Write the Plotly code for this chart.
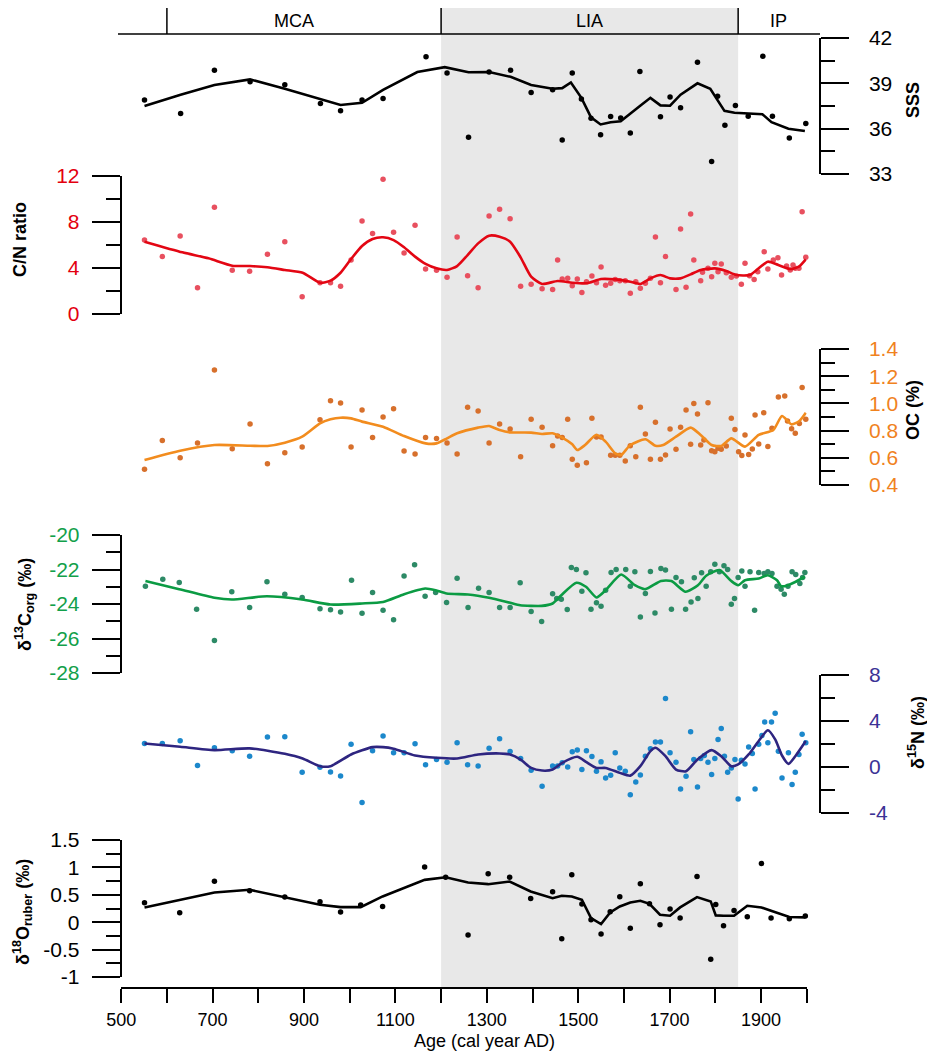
import plotly.graph_objects as go

W, H = 927, 1055

# ---------------- data ----------------
sss_pt_year = [551, 630, 704, 782, 858, 936, 980, 1027, 1073, 1167, 1213, 1260, 1305, 1352, 1397, 1444, 1465,
               1487, 1507, 1528, 1549, 1571, 1593, 1614, 1635, 1680, 1701, 1724, 1761, 1792, 1805, 1821, 1844,
               1872, 1904, 1925, 1962, 1998]
sss_pt_val = [37.89, 37.0, 39.86, 39.1, 38.9, 37.67, 37.18, 37.89, 37.99, 40.76, 39.69, 35.44, 39.75, 39.86, 38.4,
              38.57, 35.25, 39.69, 37.97, 36.69, 35.6, 36.8, 36.7, 35.72, 39.79, 36.79, 38.1, 37.39, 40.4, 33.82,
              38.15, 36.22, 37.53, 36.82, 40.8, 36.82, 35.38, 36.35]
sss_ln_year = [551, 630, 704, 782, 858, 936, 980, 1027, 1073, 1148, 1208, 1260, 1305, 1352, 1397, 1444, 1465, 1484,
               1507, 1528, 1549, 1571, 1593, 1635, 1658, 1680, 1701, 1724, 1761, 1789, 1820, 1842, 1871, 1903,
               1923, 1960, 1996]
sss_ln_val = [37.5, 38.25, 38.89, 39.26, 38.64, 37.93, 37.57, 37.71, 38.57, 39.75, 40.07, 39.73, 39.75, 39.43,
              38.89, 38.64, 38.68, 39.06, 38.04, 36.75, 36.28, 36.43, 36.49, 37.5, 38.04, 37.54, 37.52, 38.25, 39.0,
              38.64, 37.18, 37.05, 37.0, 36.96, 36.43, 36.0, 35.85]

cn_pt_year = [551, 590, 629, 667, 704, 743, 781, 820, 858, 896, 935, 958, 980, 1003, 1027, 1050, 1073, 1096, 1119,
              1143, 1166, 1190, 1213, 1235, 1258, 1281, 1305, 1328, 1351, 1374, 1397, 1421, 1444, 1455, 1465, 1477,
              1487, 1498, 1508, 1518, 1530, 1540, 1550, 1560, 1571, 1581, 1591, 1603, 1614, 1626, 1636, 1647, 1658,
              1669, 1680, 1691, 1714, 1724, 1736, 1746, 1753, 1768, 1772, 1784, 1792, 1799, 1806, 1813, 1824, 1835,
              1846, 1857, 1865, 1875, 1885, 1893, 1907, 1915, 1927, 1937, 1945, 1956, 1964, 1970, 1975, 1983, 1990,
              1998]
cn_pt_val = [6.43, 4.99, 6.78, 2.29, 9.28, 3.8, 3.71, 5.19, 6.29, 1.51, 2.72, 2.72, 2.41, 4.7, 8.09, 7.01, 11.71,
             7.1, 5.3, 7.71, 3.91, 3.8, 3.19, 6.7, 3.33, 2.29, 8.52, 9.1, 8.29, 2.41, 2.58, 2.2, 2.12, 4.7, 3.04, 3.1,
             2.46, 3.04, 1.88, 2.81, 3.3, 2.72, 4.09, 2.49, 2.67, 3.01, 2.9, 2.9, 1.8, 2.81, 2.23, 2.67, 3.1, 6.7,
             2.72, 4.99, 2.14, 7.39, 2.32, 8.7, 4.7, 2.9, 3.62, 3.97, 3.25, 4.41, 3.68, 4.35, 3.59, 3.19, 3.3, 2.58,
             4.41, 3.33, 3.01, 3.68, 5.42, 3.91, 4.7, 4.9, 3.39, 4.17, 3.83, 4.26, 3.97, 3.97, 8.9, 4.93]
cn_ln_year = [551, 634, 691, 743, 782, 820, 858, 897, 935, 958, 980, 1003, 1027, 1050, 1073, 1096, 1119, 1143, 1166,
              1190, 1213, 1235, 1258, 1281, 1305, 1328, 1351, 1374, 1397, 1421, 1455, 1487, 1518, 1550, 1581, 1614,
              1636, 1658, 1680, 1701, 1724, 1746, 1768, 1799, 1824, 1846, 1875, 1893, 1915, 1938, 1964, 1983, 1998]
cn_ln_val = [6.29, 5.36, 4.84, 4.2, 4.17, 4.06, 3.83, 3.59, 2.72, 2.9, 3.59, 4.78, 5.91, 6.52, 6.67, 6.43, 5.8, 4.99,
             4.35, 3.97, 3.83, 4.17, 5.13, 6.14, 6.81, 6.72, 6.29, 4.93, 3.25, 2.61, 2.87, 2.72, 2.67, 3.04, 3.01,
             2.81, 2.61, 3.1, 3.39, 3.1, 3.1, 3.45, 3.83, 3.97, 3.74, 3.39, 3.39, 3.91, 4.55, 4.26, 3.91, 4.12, 4.75]

oc_pt_year = [551, 590, 629, 667, 704, 743, 782, 820, 858, 896, 935, 958, 980, 1003, 1027, 1050, 1073, 1096, 1119,
              1143, 1166, 1190, 1213, 1235, 1258, 1281, 1305, 1328, 1351, 1374, 1397, 1421, 1444, 1455, 1465, 1477,
              1487, 1498, 1518, 1530, 1540, 1550, 1571, 1581, 1591, 1603, 1614, 1626, 1636, 1647, 1658, 1669, 1680,
              1691, 1701, 1714, 1724, 1736, 1746, 1753, 1761, 1768, 1775, 1784, 1792, 1799, 1806, 1813, 1824, 1835,
              1843, 1851, 1858, 1865, 1873, 1881, 1887, 1895, 1906, 1915, 1924, 1938, 1952, 1958, 1967, 1975, 1984,
              1990, 1998]
oc_pt_val = [0.515, 0.728, 0.601, 0.709, 1.246, 0.667, 0.849, 0.557, 0.638, 0.679, 0.88, 1.02, 1.003, 0.679, 0.951,
             0.75, 0.9, 0.961, 0.65, 0.628, 0.75, 0.741, 0.709, 0.628, 0.971, 0.944, 0.709, 0.849, 0.812, 0.608,
             0.883, 0.824, 0.689, 0.76, 0.75, 0.883, 0.589, 0.545, 0.564, 0.89, 0.753, 0.753, 0.618, 0.618, 0.618,
             0.576, 0.689, 0.608, 0.971, 0.775, 0.589, 0.861, 0.589, 0.621, 0.812, 0.662, 0.824, 0.951, 0.699, 1.0,
             0.922, 0.694, 0.731, 1.005, 0.652, 0.645, 0.67, 0.662, 0.687, 0.89, 0.809, 0.645, 0.616, 0.768, 0.625,
             0.665, 0.915, 0.701, 0.932, 0.684, 0.817, 1.047, 1.054, 0.871, 0.814, 0.78, 0.853, 1.116, 0.883]
oc_ln_year = [551, 629, 704, 782, 820, 858, 896, 935, 958, 980, 1003, 1027, 1073, 1119, 1166, 1190, 1213, 1235, 1281,
              1305, 1328, 1351, 1397, 1421, 1444, 1465, 1487, 1498, 1515, 1540, 1560, 1581, 1594, 1614, 1647, 1669,
              1686, 1714, 1746, 1768, 1792, 1813, 1835, 1865, 1895, 1927, 1946, 1967, 1984, 1998]
oc_ln_val = [0.584, 0.652, 0.694, 0.689, 0.687, 0.711, 0.755, 0.853, 0.883, 0.895, 0.89, 0.866, 0.829, 0.76, 0.706,
             0.706, 0.743, 0.78, 0.822, 0.834, 0.804, 0.787, 0.785, 0.775, 0.78, 0.748, 0.699, 0.657, 0.694, 0.77,
             0.719, 0.633, 0.621, 0.694, 0.736, 0.689, 0.694, 0.755, 0.822, 0.768, 0.694, 0.687, 0.743, 0.682,
             0.768, 0.804, 0.907, 0.846, 0.871, 0.932]

c13_pt_year = [553, 591, 627, 665, 704, 742, 781, 819, 858, 896, 935, 958, 980, 1004, 1027, 1050, 1073, 1096, 1119,
               1142, 1165, 1188, 1212, 1235, 1259, 1282, 1305, 1328, 1351, 1373, 1397, 1420, 1444, 1453, 1463, 1476,
               1485, 1496, 1508, 1517, 1528, 1540, 1550, 1560, 1572, 1583, 1604, 1614, 1624, 1636, 1647, 1658, 1668,
               1681, 1691, 1704, 1714, 1726, 1735, 1747, 1754, 1762, 1770, 1780, 1790, 1799, 1809, 1819, 1827, 1835,
               1842, 1850, 1858, 1865, 1876, 1886, 1895, 1907, 1915, 1924, 1935, 1944, 1951, 1959, 1968, 1976, 1985,
               1991, 1996]
c13_pt_val = [-22.97, -22.56, -22.75, -24.3, -26.12, -23.29, -24.2, -22.71, -23.43, -23.62, -24.28, -24.34, -24.46,
              -22.62, -24.53, -23.33, -24.36, -24.92, -22.38, -21.72, -23.55, -23.33, -23.91, -22.5, -24.2, -23.08,
              -23.33, -24.2, -24.2, -22.77, -24.44, -25.02, -23.41, -23.68, -23.72, -24.32, -21.88, -22.0, -23.26,
              -22.19, -24.3, -23.93, -24.13, -23.2, -22.17, -22.0, -22.0, -22.97, -22.13, -24.75, -23.39, -22.11,
              -24.52, -21.94, -22.03, -24.3, -22.46, -22.71, -24.3, -23.88, -22.48, -23.68, -22.19, -22.97, -22.13,
              -21.69, -22.13, -21.78, -22.0, -24.01, -23.68, -22.46, -22.09, -22.97, -22.13, -24.36, -22.17, -22.23,
              -22.13, -22.23, -22.97, -23.14, -23.43, -22.97, -22.13, -22.29, -22.81, -22.46, -22.17]
c13_ln_year = [553, 627, 704, 742, 819, 896, 958, 1027, 1073, 1119, 1165, 1188, 1212, 1259, 1305, 1351, 1373, 1420,
               1444, 1463, 1496, 1517, 1540, 1560, 1594, 1624, 1647, 1681, 1704, 1735, 1762, 1780, 1809, 1835, 1850,
               1865, 1895, 1915, 1935, 1944, 1959, 1976, 1996]
c13_ln_val = [-22.67, -23.14, -23.64, -23.74, -23.55, -23.74, -24.03, -23.97, -23.88, -23.43, -23.1, -23.2, -23.39,
              -23.45, -23.64, -23.93, -24.07, -24.11, -23.97, -23.49, -22.77, -23.0, -23.62, -23.2, -22.29, -22.91,
              -23.14, -22.66, -22.67, -23.29, -22.91, -22.36, -22.03, -22.67, -22.91, -22.62, -22.52, -22.33, -22.62,
              -22.97, -22.91, -22.71, -22.42]

n15_pt_year = [551, 590, 629, 667, 704, 743, 781, 820, 858, 896, 935, 958, 980, 1003, 1027, 1050, 1073, 1096, 1119,
               1143, 1166, 1190, 1213, 1235, 1258, 1281, 1305, 1328, 1351, 1374, 1397, 1421, 1444, 1455, 1465, 1477,
               1487, 1498, 1508, 1518, 1530, 1540, 1550, 1560, 1571, 1581, 1591, 1603, 1614, 1626, 1636, 1647, 1658,
               1669, 1680, 1691, 1701, 1714, 1724, 1736, 1746, 1753, 1761, 1768, 1776, 1784, 1792, 1799, 1806, 1813,
               1820, 1827, 1835, 1843, 1850, 1857, 1865, 1873, 1881, 1887, 1895, 1902, 1908, 1915, 1923, 1931, 1938,
               1946, 1960, 1968, 1975, 1983, 1990, 1998]
n15_pt_val = [2.05, 2.05, 2.29, 0.13, 1.67, 1.41, 0.94, 2.61, 2.64, -0.45, -0.02, -0.43, -0.78, 1.97, -3.08, 1.41,
              2.69, 1.24, 1.24, 2.02, 0.19, 0.65, 0.42, 2.11, 0.19, 0.08, 1.64, 2.46, 1.35, 0.74, -0.28, -1.68, 0.08,
              0.08, 0.36, 0.01, 1.32, 1.47, -0.22, 1.41, 0.92, -0.37, 0.45, -0.95, -0.72, 1.24, -0.08, -0.37, -2.41,
              -1.3, -0.69, 0.94, 1.59, 2.17, 2.17, 5.96, 1.24, 0.42, -1.91, -0.8, 3.07, 0.65, -1.74, 0.74, 1.0, 0.42,
              -0.66, 0.74, 2.4, 3.34, 0.94, -0.45, -0.08, 0.65, -2.79, 0.59, 0.27, 1.73, 1.18, -1.91, 1.97, 2.75,
              3.92, 2.11, 3.92, 4.68, 1.38, -0.95, 1.24, -1.53, -0.45, 1.09, 2.84, 2.11]
n15_ln_year = [551, 629, 704, 781, 858, 897, 935, 958, 1003, 1050, 1073, 1096, 1143, 1190, 1235, 1281, 1328, 1351,
               1374, 1397, 1421, 1444, 1465, 1498, 1518, 1540, 1560, 1591, 1614, 1636, 1658, 1669, 1691, 1714, 1736,
               1761, 1792, 1813, 1835, 1850, 1873, 1895, 1915, 1931, 1946, 1960, 1975, 1998]
n15_ln_val = [2.05, 1.76, 1.47, 1.62, 1.15, 0.74, 0.07, 0.07, 1.09, 1.73, 1.73, 1.59, 1.0, 0.8, 0.74, 1.09, 1.18,
              1.09, 0.65, -0.08, -0.31, -0.22, 0.36, 0.89, 0.42, -0.08, -0.08, -0.51, -0.75, 0.07, 1.38, 1.67, 0.94,
              -0.22, -0.37, 0.65, 1.47, 0.94, 0.07, 0.22, 1.09, 2.26, 3.19, 2.4, 1.0, 0.27, 0.94, 2.26]

o18_pt_year = [551, 628, 704, 781, 858, 935, 980, 1024, 1072, 1164, 1210, 1259, 1303, 1350, 1396, 1444, 1464, 1486,
               1508, 1528, 1550, 1570, 1591, 1614, 1636, 1656, 1679, 1701, 1723, 1760, 1790, 1801, 1818, 1841, 1870,
               1901, 1922, 1962, 1997]
o18_pt_val = [0.355, 0.173, 0.748, 0.573, 0.458, 0.373, 0.185, 0.312, 0.288, 1.009, 0.821, -0.233, 0.882, 0.821,
              0.433, 0.555, -0.3, 0.864, 0.33, 0.045, -0.215, 0.191, 0.464, -0.112, 0.7, 0.336, -0.045, 0.239, 0.076,
              0.833, -0.676, 0.324, -0.064, 0.215, 0.1, 1.07, 0.076, 0.064, 0.112]
o18_ln_year = [551, 628, 704, 781, 858, 935, 980, 1024, 1072, 1164, 1210, 1259, 1303, 1350, 1396, 1444, 1464, 1486,
               1508, 1528, 1550, 1570, 1591, 1614, 1636, 1656, 1679, 1701, 1723, 1760, 1790, 1801, 1818, 1841, 1870,
               1901, 1922, 1962, 1997]
o18_ln_val = [0.27, 0.409, 0.542, 0.591, 0.452, 0.318, 0.276, 0.276, 0.47, 0.773, 0.821, 0.724, 0.694, 0.742, 0.561,
              0.439, 0.482, 0.47, 0.409, 0.076, -0.033, 0.179, 0.288, 0.361, 0.391, 0.336, 0.136, 0.118, 0.27, 0.458,
              0.379, 0.124, 0.118, 0.118, 0.3, 0.27, 0.209, 0.094, 0.088]

periods = ["MCA", "LIA", "IP"]
period_label_year = [878, 1525, 1938]
period_bounds = [600, 1200, 1850]
lia_span = [1200, 1850]

x_ticks = [500, 700, 900, 1100, 1300, 1500, 1700, 1900]

# ---------------- helpers ----------------
FONT = "Liberation Sans, Arial, Helvetica, sans-serif"


def fy(py):
    return 1 - py / H


def fx(px):
    return px / W


fig = go.Figure()

panels = [
    ("y", sss_pt_year, sss_pt_val, sss_ln_year, sss_ln_val, "#000000", "#000000", False),
    ("y2", cn_pt_year, cn_pt_val, cn_ln_year, cn_ln_val, "#e8505f", "#e30613", True),
    ("y3", oc_pt_year, oc_pt_val, oc_ln_year, oc_ln_val, "#d7702c", "#f28c1e", True),
    ("y4", c13_pt_year, c13_pt_val, c13_ln_year, c13_ln_val, "#2d8a66", "#0b9b43", True),
    ("y5", n15_pt_year, n15_pt_val, n15_ln_year, n15_ln_val, "#1c88cb", "#2e2580", True),
    ("y6", o18_pt_year, o18_pt_val, o18_ln_year, o18_ln_val, "#000000", "#000000", False),
]

for yid, px_, py_, lx, ly, pc, lc, spl in panels:
    fig.add_trace(go.Scatter(x=px_, y=py_, xaxis="x", yaxis=yid, mode="markers",
                             marker=dict(size=5.5, color=pc), showlegend=False, cliponaxis=False))
    fig.add_trace(go.Scatter(x=lx, y=ly, xaxis="x", yaxis=yid, mode="lines",
                             line=dict(color=lc, width=2.6, shape="spline" if spl else "linear",
                                       smoothing=0.6 if spl else None),
                             showlegend=False, cliponaxis=False))


def yaxis_cfg(top, bot, rng, tv, tt, minor_dtick, side, color):
    pos = fx(820) if side == "right" else fx(120.5)
    standoff = 16 if side == "right" else 8
    return dict(domain=[fy(bot), fy(top)], range=rng, anchor="free", position=pos, side=side,
                showline=True, linecolor="black", linewidth=1.5, showgrid=False, zeroline=False,
                ticks="outside", ticklen=28, tickwidth=1.5, tickcolor="black",
                tickmode="array", tickvals=tv, ticktext=tt, ticklabelstandoff=standoff,
                tickfont=dict(family=FONT, size=21, color=color),
                minor=dict(ticks="outside", ticklen=14, tickwidth=1.5, tickcolor="black",
                           dtick=minor_dtick, tick0=rng[0], showgrid=False),
                automargin=False, fixedrange=True)


layout = dict(
    width=W, height=H, margin=dict(l=0, r=0, t=0, b=0),
    paper_bgcolor="white", plot_bgcolor="rgba(0,0,0,0)",
    font=dict(family=FONT, color="black"),
    xaxis=dict(domain=[fx(121.2), fx(806.7)], range=[500, 2000], anchor="free", position=fy(988),
               showline=True, linecolor="black", linewidth=1.5, showgrid=False, zeroline=False,
               ticks="outside", ticklen=14, tickwidth=1.5, tickcolor="black",
               tickmode="array", tickvals=x_ticks, ticktext=[str(v) for v in x_ticks], ticklabelstandoff=2,
               tickfont=dict(family=FONT, size=18, color="black"),
               minor=dict(ticks="outside", ticklen=14, tickwidth=1.5, tickcolor="black", dtick=100, tick0=500),
               automargin=False, fixedrange=True),
    yaxis=yaxis_cfg(38, 174, [33, 42], [33, 36, 39, 42], ["33", "36", "39", "42"], 1.5, "right", "black"),
    yaxis2=yaxis_cfg(176, 314, [0, 12], [0, 4, 8, 12], ["0", "4", "8", "12"], 2, "left", "#e3000f"),
    yaxis3=yaxis_cfg(349, 485, [0.4, 1.4], [0.4, 0.6, 0.8, 1.0, 1.2, 1.4],
                     ["0.4", "0.6", "0.8", "1.0", "1.2", "1.4"], 0.1, "right", "#f0821e"),
    yaxis4=yaxis_cfg(535, 673, [-28, -20], [-28, -26, -24, -22, -20],
                     ["-28", "-26", "-24", "-22", "-20"], 1, "left", "#12a04a"),
    yaxis5=yaxis_cfg(675, 813, [-4, 8], [-4, 0, 4, 8], ["-4", "0", "4", "8"], 2, "right", "#3b3295"),
    yaxis6=yaxis_cfg(840, 977, [-1, 1.5], [-1, -0.5, 0, 0.5, 1, 1.5],
                     ["-1", "-0.5", "0", "0.5", "1", "1.5"], 0.25, "left", "black"),
)
fig.update_layout(**layout)

shapes = [
    dict(type="rect", xref="x", yref="paper", x0=lia_span[0], x1=lia_span[1], y0=fy(988), y1=fy(8),
         fillcolor="#e8e8e8", line=dict(width=0), layer="below"),
    dict(type="line", xref="paper", yref="paper", x0=fx(118), x1=fx(820), y0=fy(34), y1=fy(34),
         line=dict(color="black", width=1.5)),
]
for b in period_bounds:
    shapes.append(dict(type="line", xref="x", yref="paper", x0=b, x1=b, y0=fy(34), y1=fy(8),
                       line=dict(color="black", width=1.5)))
fig.update_layout(shapes=shapes)

ann = []
for name, yr in zip(periods, period_label_year):
    ann.append(dict(text=name, x=yr, xref="x", y=fy(21), yref="paper", showarrow=False,
                    font=dict(family=FONT, size=18, color="black"), xanchor="center", yanchor="middle"))

titles = [
    ("<b>SSS</b>", 913, 100),
    ("<b>C/N ratio</b>", 20, 240),
    ("<b>OC (%)</b>", 913, 410),
    ("<b>δ<sup>13</sup>C<sub>org</sub> (‰)</b>", 24, 605),
    ("<b>δ<sup>15</sup>N (‰)</b>", 916, 733),
    ("<b>δ<sup>18</sup>O<sub>ruber</sub> (‰)</b>", 22, 912),
]
for t, x, y in titles:
    ann.append(dict(text=t, x=fx(x), y=fy(y), xref="paper", yref="paper", showarrow=False, textangle=-90,
                    font=dict(family=FONT, size=18, color="black"), xanchor="center", yanchor="middle"))

ann.append(dict(text="Age (cal year AD)", x=fx(485), y=fy(1041), xref="paper", yref="paper", showarrow=False,
                font=dict(family=FONT, size=18, color="black"), xanchor="center", yanchor="middle"))
fig.update_layout(annotations=ann)

fig.write_html("out.html", config={"displayModeBar": False},
               post_script="document.body.style.margin='0px';document.body.style.overflow='hidden';")
